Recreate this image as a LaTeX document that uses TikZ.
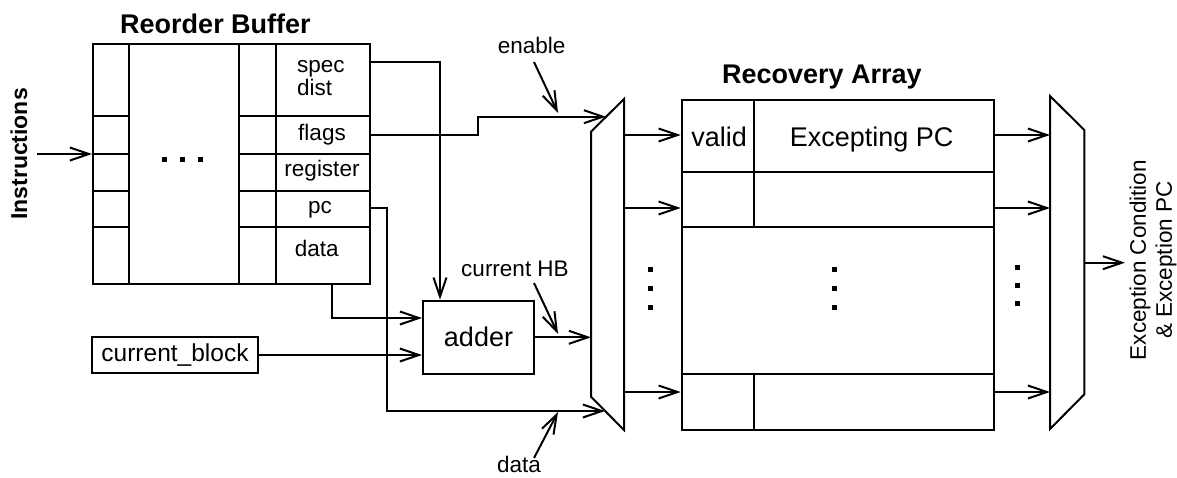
\documentclass[tikz,border=0pt]{standalone}
\usepackage{fontspec}
\setmainfont{Liberation Sans}
\usetikzlibrary{arrows.meta}
\begin{document}
\begin{tikzpicture}[x=1pt,y=-1pt, line width=2pt,
  >={Straight Barb[length=19pt,width=13pt]},
  txt/.style={font=\fontsize{22.5}{26}\selectfont, inner sep=0pt},
  big/.style={font=\fontsize{27}{31}\selectfont, inner sep=0pt},
  ttl/.style={font=\bfseries\fontsize{27}{31}\selectfont, inner sep=0pt},
  box/.style={draw, inner sep=0pt},
  dot/.style={fill, minimum size=5pt, inner sep=0pt}]
\useasboundingbox (0,0) rectangle (1177,477);

% ---------------- Reorder buffer
\node[box, minimum width=277pt, minimum height=240pt, anchor=north west] (rob) at (92,43) {};
\draw (128.7,43) -- (128.7,283) (239.3,43) -- (239.3,283) (276,43) -- (276,283);
\foreach \y in {116.3,154,190.7,227.3} \draw (92,\y) -- (128.7,\y) (239.3,\y) -- (369,\y);
\node[ttl, anchor=base] (robt) at (215.5,33) {Reorder Buffer};
\node[font=\bfseries\fontsize{23}{27}\selectfont, inner sep=0pt, rotate=90] (instrt) at (19,154) {Instructions};
\node[txt, anchor=base west] (spec) at (296,72.7) {spec};
\node[txt, anchor=base west] (dist) at (296,95) {dist};
\node[txt, anchor=base] (flags) at (322,140) {flags};
\node[txt, anchor=base] (reg) at (322,176.7) {register};
\node[txt, anchor=base] (pc) at (320,213.3) {pc};
\node[txt, anchor=base] (data) at (316.7,256) {data};
\node[dot] (rd1) at (164.5,159.5) {};
\node[dot] (rd2) at (182.5,159.5) {};
\node[dot] (rd3) at (200.5,159.5) {};

% ---------------- adder and current block
\node[box, big, minimum width=111pt, minimum height=73.3pt] (adder) at (478.5,337.3) {adder};
\node[box, font=\fontsize{24.5}{28}\selectfont, minimum width=165.4pt, minimum height=36.6pt] (cb) at (175,355) {current\_block};

% ---------------- mux 1
\coordinate (m1a) at (591,131.7);
\coordinate (m1b) at (624,99);
\coordinate (m1c) at (624,430);
\coordinate (m1d) at (591,396.7);
\draw[line join=miter] (m1a) -- (m1b) -- (m1c) -- (m1d) -- cycle;
\node[dot] (md1) at (650,269.5) {};
\node[dot] (md2) at (650,288) {};
\node[dot] (md3) at (650,307) {};

% ---------------- recovery array
\node[box, minimum width=312.3pt, minimum height=330pt, anchor=north west] (ra) at (680.7,99) {};
\draw (680.7,171.7) -- (993,171.7) (680.7,226.7) -- (993,226.7) (680.7,374.3) -- (993,374.3)
      (754.3,99) -- (754.3,226.7) (754.3,374.3) -- (754.3,429);
\node[ttl, anchor=base] (rat) at (822,83) {Recovery Array};
\node[big, anchor=base] (valid) at (719.2,146.7) {valid};
\node[big, anchor=base] (epc) at (871.7,146.7) {Excepting PC};
\node[dot] (ad1) at (834.8,269.5) {};
\node[dot] (ad2) at (834.8,288) {};
\node[dot] (ad3) at (834.8,307) {};

% ---------------- mux 2
\coordinate (m2a) at (1050,96);
\coordinate (m2b) at (1084.3,130);
\coordinate (m2c) at (1084.3,394.3);
\coordinate (m2d) at (1050,429);
\draw[line join=miter] (m2a) -- (m2b) -- (m2c) -- (m2d) -- cycle;
\node[dot] (xd1) at (1017.8,267.8) {};
\node[dot] (xd2) at (1017.8,285.5) {};
\node[dot] (xd3) at (1017.8,303) {};
\node[txt, rotate=90, align=center] (exct) at (1153,260) {Exception Condition\\\& Exception PC};

% ---------------- connectors
\coordinate (instr) at (37,154);
\draw[->] (instr) -- (instr -| rob.west);

\coordinate (specout) at (369,62);
\draw[->] (specout) -| ([xshift=18pt]adder.north west);

\coordinate (flagsout) at (369,135);
\coordinate (en) at (606,116.7);
\draw[->] (flagsout) -- (478,135) -- (478,116.7) -- (en);

\coordinate (pcout) at (369,208);
\coordinate (dsel) at (605,411);
\draw[->] (pcout) -- (386.7,208) |- (dsel);

\coordinate (dataout) at (332,283);
\draw[->] (dataout) |- ([yshift=19.3pt]adder.west);

\draw[->] (cb.east) -- (cb.east -| adder.west);

\coordinate (hbin) at (591,337.3);
\draw[->] (adder.east) -- (hbin);

\foreach \y in {135,208,392} {
  \draw[->] (624,\y) -- +(56.7,0);
  \draw[->] (993,\y) -- +(57,0);
}

\coordinate (m2o) at (1084.3,262.7);
\coordinate (exc) at (1125,262.7);
\draw[->] (m2o) -- (exc);

% ---------------- pointer labels
\node[txt, anchor=base] (enl) at (531.7,53.3) {enable};
\coordinate (enp) at (558,113);
\draw[->] (534,62) -- (enp);

\node[txt, anchor=base] (hbl) at (515,276.7) {current HB};
\coordinate (hbp) at (558,334);
\draw[->] (534,283) -- (hbp);

\node[txt, anchor=base] (dl) at (519,472.5) {data};
\coordinate (dp) at (558,412);
\draw[->] (534,458) -- (dp);
\end{tikzpicture}
\end{document}
